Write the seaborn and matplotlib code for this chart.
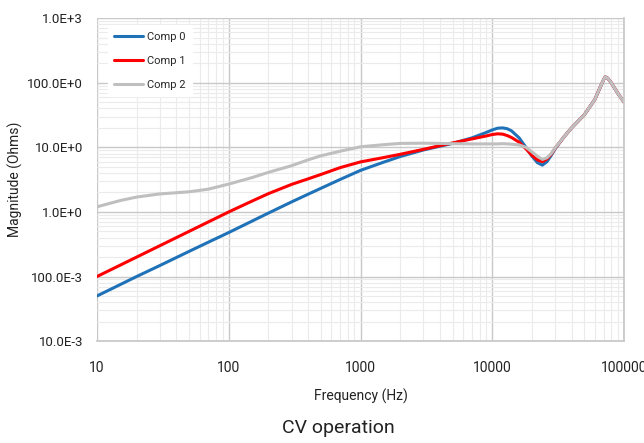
import matplotlib
matplotlib.use("Agg")
import matplotlib.pyplot as plt
import seaborn as sns
import pandas as pd
import numpy as np
from matplotlib.ticker import FixedLocator, FixedFormatter, LogLocator, NullFormatter

freq = [10, 15, 20, 30, 50, 70, 100, 150, 200, 300, 400, 500, 700, 1000, 1500, 2000, 3000,
        4000, 5000, 7000, 9000, 10000, 11000, 12000, 13000, 14000, 16000, 18000, 20000,
        22000, 24000, 26000, 28000, 30000, 35000, 40000, 50000, 60000, 65000, 70000,
        72000, 75000, 80000, 90000, 100000]

comp0 = [0.05, 0.075, 0.10, 0.148, 0.245, 0.34, 0.48, 0.72, 0.96, 1.43, 1.88, 2.32, 3.18,
         4.4, 5.9, 7.2, 9.1, 10.4, 11.5, 14.0, 17.0, 18.6, 19.8, 20.0, 19.4, 18.0, 14.0,
         10.0, 7.3, 5.8, 5.3, 6.0, 7.5, 9.5, 14.5, 20.0, 32.0, 55.0, 80.0, 112.0, 123.0,
         118.0, 100.0, 68.0, 50.0]

comp1 = [0.10, 0.15, 0.20, 0.30, 0.50, 0.70, 1.0, 1.47, 1.92, 2.67, 3.25, 3.8, 4.85,
         5.95, 6.95, 7.8, 9.3, 10.6, 11.7, 13.5, 15.0, 15.8, 16.2, 16.0, 15.2, 14.2, 12.0,
         9.5, 7.5, 6.4, 6.0, 6.6, 7.8, 9.7, 14.5, 20.0, 32.0, 55.0, 80.0, 112.0, 123.0,
         118.0, 100.0, 68.0, 50.0]

comp2 = [1.2, 1.5, 1.7, 1.9, 2.05, 2.25, 2.7, 3.4, 4.1, 5.2, 6.4, 7.4, 8.7, 10.2, 11.0,
         11.5, 11.6, 11.5, 11.4, 11.3, 11.3, 11.3, 11.3, 11.4, 11.3, 11.2, 10.9, 10.0, 8.5,
         7.3, 6.5, 6.9, 8.0, 9.8, 14.5, 20.0, 32.0, 55.0, 80.0, 112.0, 123.0, 118.0,
         100.0, 68.0, 50.0]

series_names = ["Comp 0", "Comp 1", "Comp 2"]
series_colors = ["#1f72b8", "#ff0000", "#bfbfbf"]

y_ticks = [0.01, 0.1, 1, 10, 100, 1000]
y_tick_labels = ["10.0E-3", "100.0E-3", "1.0E+0", "10.0E+0", "100.0E+0", "1.0E+3"]
x_ticks = [10, 100, 1000, 10000, 100000]
x_tick_labels = ["10", "100", "1000", "10000", "100000"]

sns.set_theme(style="white")
plt.rcParams['font.family'] = ['Roboto', 'DejaVu Sans']

fig = plt.figure(figsize=(6.44, 4.43), dpi=100)
ax = fig.add_axes([0.1506, 0.230, 0.8184, 0.729])

for name, vals, col in zip(series_names, [comp0, comp1, comp2], series_colors):
    df = pd.DataFrame({"Frequency": freq, "Magnitude": vals})
    sns.lineplot(data=df, x="Frequency", y="Magnitude", ax=ax, color=col, lw=2.2,
                 label=name, sort=False, estimator=None)

ax.set_xscale("log")
ax.set_yscale("log")
ax.set_xlim(10, 100000)
ax.set_ylim(0.01, 1000)

ax.xaxis.set_major_locator(FixedLocator(x_ticks))
ax.xaxis.set_major_formatter(FixedFormatter(x_tick_labels))
ax.yaxis.set_major_locator(FixedLocator(y_ticks))
ax.yaxis.set_major_formatter(FixedFormatter(y_tick_labels))
ax.xaxis.set_minor_locator(LogLocator(base=10, subs=np.arange(2, 10)))
ax.yaxis.set_minor_locator(LogLocator(base=10, subs=np.arange(2, 10)))
ax.xaxis.set_minor_formatter(NullFormatter())
ax.yaxis.set_minor_formatter(NullFormatter())

ax.grid(which="major", color="#c8c8c8", lw=1.0)
ax.grid(which="minor", color="#ebebeb", lw=0.8)
ax.set_axisbelow(True)
ax.tick_params(which="both", length=0, labelsize=10, colors="#222222")
ax.tick_params(axis="x", pad=14)
ax.tick_params(axis="y", pad=10, labelsize=9.5)

for s in ["left", "top"]:
    ax.spines[s].set_visible(False)
ax.spines["bottom"].set_color("#c8c8c8")
ax.spines["right"].set_color("#c8c8c8")

ax.set_xlabel("Frequency (Hz)", fontsize=10, color="#222222", labelpad=10)
ax.set_ylabel("Magnitude (Ohms)", fontsize=10, color="#222222", labelpad=3)

leg = ax.legend(loc="upper left", bbox_to_anchor=(0.01, 0.995), frameon=True,
                fontsize=8, handlelength=2.6, handletextpad=0.3, labelspacing=1.25,
                borderpad=0.6)
leg.get_frame().set_facecolor("white")
leg.get_frame().set_edgecolor("white")
leg.get_frame().set_alpha(1.0)

fig.text(0.525, 0.033, "CV operation", ha="center", va="center", fontsize=14, color="#222222")

fig.savefig("out.png", dpi=100)
